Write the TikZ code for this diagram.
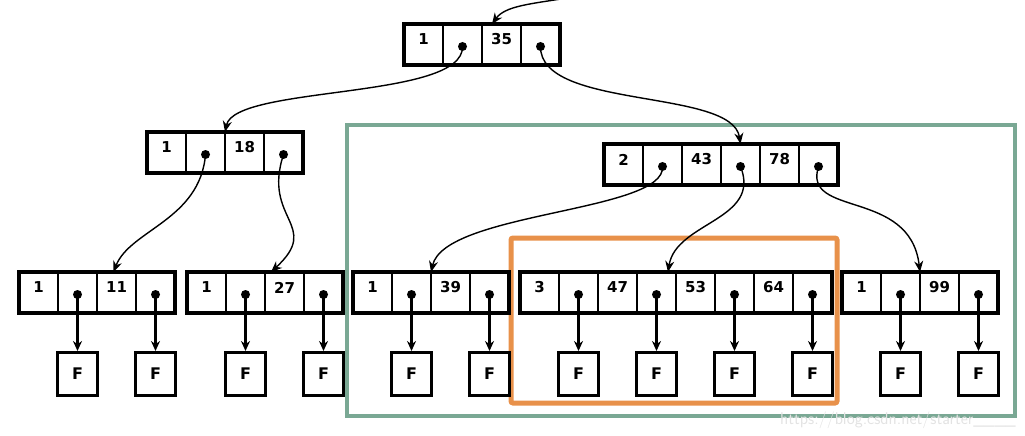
\documentclass[tikz,border=0pt]{standalone}
\usepackage{fontspec}
\usepackage{tikz}
\usetikzlibrary{arrows.meta}
\usetikzlibrary{positioning,calc}
\newfontfamily\keyfont{DejaVu Sans}
\definecolor{boxgreen}{RGB}{122,168,148}
\definecolor{boxorange}{RGB}{232,145,74}
\tikzset{
 cell/.style={draw, line width=1.1pt, minimum width=39pt, minimum height=41pt, inner sep=0pt, outer sep=0pt},
 frame/.style={line width=3.4pt},
 keylabel/.style={font=\keyfont\bfseries\fontsize{15}{17}\selectfont, inner sep=0pt},
 fbox/.style={draw, line width=3.2pt, minimum width=40pt, minimum height=43pt, inner sep=0pt,
   font=\keyfont\bfseries\fontsize{16}{18}\selectfont},
 leafarrow/.style={line width=2.2pt, -{Stealth[length=10pt,width=9pt]}},
 link/.style={line width=1.4pt, -{Stealth[length=11pt,width=9pt]}},
}

\begin{document}
\begin{tikzpicture}[x=1pt,y=-1pt]
\useasboundingbox (0,0) rectangle (1025,436);
% highlight frames
\draw[boxgreen, line width=3.5pt] (347,125) rectangle (1015,416);
\draw[boxorange, line width=5pt, rounded corners=2pt] (511,238) rectangle (837,403);
% tree nodes
\foreach \nm/\x/\y/\n/\keys in {t/404/24/2/{1,35}, l/147/132/2/{1,18}, r/604/144/3/{2,43,78},
  a/19/272/2/{1,11}, b/187/272/2/{1,27}, c/353/272/2/{1,39}, d/520/272/4/{3,47,53,64}, e/842/272/2/{1,99}} {
 \foreach \k [count=\j] in \keys {
  \node[cell] (\nm-k\j) at ({\x+(2*\j-1.5)*39},{\y+20.5}) {};
  \node[cell] (\nm-p\j) at ({\x+(2*\j-0.5)*39},{\y+20.5}) {};
  \node[keylabel] (\nm-t\j) at ([yshift=5pt]\nm-k\j.center) {\k};
  \coordinate (\nm-d\j) at ([yshift=-2pt]\nm-p\j.center);
  \fill (\nm-d\j) circle (4.5pt);
 }
 \draw[frame] (\nm-k1.north west) rectangle (\nm-p\n.south east);
}
% leaves
\foreach \nm/\n in {a/2,b/2,c/2,d/4,e/2} {
 \foreach \j in {1,...,\n} {
  \node[fbox, below=38pt of \nm-p\j] (\nm-f\j) {F};
  \draw[leafarrow] (\nm-d\j) -- (\nm-f\j);
 }
}
% links between levels
\coordinate (in) at (567,-2);
\draw[link] (in) .. controls (530,4) and (505,6) .. ([xshift=10pt]t-k2.north west);
\draw[link] (t-d1) .. controls (464,100) and (235,85) .. (l-k2.north west);
\draw[link] (t-d2) .. controls (540,110) and (732,88) .. (r-p2.north);
\draw[link] (l-d1) .. controls (200,220) and (130,230) .. ([xshift=-3pt]a-k2.north);
\draw[link] (l-d2) .. controls (262,220) and (322,225) .. ([xshift=6pt]b-k2.north west);
\draw[link] (r-d1) .. controls (666,212) and (445,212) .. (c-k2.north west);
\draw[link] (r-d2) .. controls (762,220) and (676,222) .. ([xshift=-8pt]d-k3.north west);
\draw[link] (r-d3) .. controls (802,218) and (910,188) .. (e-k2.north west);
% watermark
\node[text=gray!22, font=\sffamily\fontsize{17}{19}\selectfont, inner sep=0pt] (mark) at (898,420) {https://blog.csdn.net/starter\_\_\_\_};
\end{tikzpicture}
\end{document}
